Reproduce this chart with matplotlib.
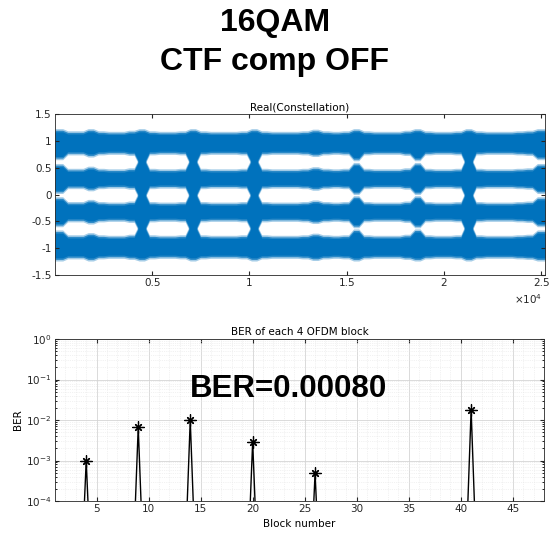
import numpy as np
import matplotlib
matplotlib.use('Agg')
import matplotlib.pyplot as plt
from matplotlib.ticker import FixedLocator, LogLocator, MultipleLocator, NullFormatter

plt.rcParams['font.family'] = ['DejaVu Sans']
plt.rcParams['mathtext.default'] = 'regular'

# constellation (real part): 48 OFDM blocks of 525 samples
block_len = 525
n_blocks = 48
levels = [0.93, 0.30, -0.32, -0.94]
# half-width of each band in each block
spread = [0.22, 0.13, 0.13, 0.17, 0.13, 0.12, 0.12, 0.14, 0.33, 0.13,
          0.12, 0.12, 0.13, 0.33, 0.13, 0.12, 0.12, 0.12, 0.13, 0.32,
          0.13, 0.12, 0.12, 0.12, 0.13, 0.16, 0.13, 0.12, 0.13, 0.24,
          0.13, 0.12, 0.12, 0.12, 0.14, 0.24, 0.13, 0.12, 0.12, 0.13,
          0.34, 0.13, 0.12, 0.12, 0.12, 0.13, 0.14, 0.22]

# BER of each block
blocks = np.arange(1, n_blocks + 1)
ber = np.zeros(n_blocks)
err_blocks = [4, 9, 14, 20, 26, 41]
err_values = [1.0e-3, 6.7e-3, 1.0e-2, 2.9e-3, 4.9e-4, 1.8e-2]
ber[np.array(err_blocks) - 1] = err_values
ber_floor = 1e-9  # error-free blocks
ber_total = 0.00080

blue = '#0072BD'
axc = '#262626'
fs = 7.5

fig = plt.figure(figsize=(5.5, 5.36), dpi=100)
fig.text(0.5, 0.958, '16QAM', ha='center', va='center', fontsize=23,
         fontweight='bold', family='Liberation Sans')
fig.text(0.5, 0.884, 'CTF comp OFF', ha='center', va='center', fontsize=23,
         fontweight='bold', family='Liberation Sans')

# ---- top: constellation
ax1 = fig.add_axes([0.1, 0.487, 0.891, 0.300])
# each block drawn as a plateau, short ramps at block edges
edge = 130
starts = np.arange(n_blocks) * block_len
xs = np.column_stack([starts + edge, starts + block_len - edge]).ravel()
xs[0], xs[-1] = 0, n_blocks * block_len
sp = np.repeat(spread, 2)
sp_out = np.minimum(sp, 0.17) + 0.07   # outer side of the outermost bands
for i, lv in enumerate(levels):
    up = sp_out if i == 0 else sp
    dn = sp_out if i == len(levels) - 1 else sp
    for pad, a in [(0.06, 0.35), (0.03, 0.75), (0.0, 1.0)]:
        ax1.fill_between(xs, lv - dn - pad, lv + up + pad,
                         color=blue, alpha=a, lw=0)
ax1.set_xlim(0, n_blocks * block_len)
ax1.set_ylim(-1.5, 1.5)
ax1.set_yticks([-1.5, -1, -0.5, 0, 0.5, 1, 1.5])
ax1.set_yticklabels(['-1.5', '-1', '-0.5', '0', '0.5', '1', '1.5'])
ax1.set_xticks([5000, 10000, 15000, 20000, 25000])
ax1.set_xticklabels(['0.5', '1', '1.5', '2', '2.5'])
ax1.text(0.995, -0.15, r'$\times10^{4}$', transform=ax1.transAxes, ha='right',
         va='center', fontsize=fs, color=axc)
ax1.set_title('Real(Constellation)', fontsize=fs, pad=3)

# ---- bottom: BER per block
ax2 = fig.add_axes([0.1, 0.0653, 0.889, 0.302])
ber_plot = np.where(ber > 0, ber, ber_floor)
ax2.semilogy(blocks, ber_plot, color='black', lw=1.0)
ax2.semilogy(blocks, ber_plot, ls='none', color='black', marker=(4, 2, 0),
             markersize=8, markeredgewidth=0.9)
ax2.semilogy(blocks, ber_plot, ls='none', color='black', marker=(4, 2, 45),
             markersize=6.5, markeredgewidth=0.9)
ax2.set_xlim(1, 48)
ax2.set_ylim(1e-4, 1)
ax2.set_xticks([5, 10, 15, 20, 25, 30, 35, 40, 45])
ax2.xaxis.set_minor_locator(MultipleLocator(1))
ax2.yaxis.set_major_locator(FixedLocator([1e-4, 1e-3, 1e-2, 1e-1, 1]))
ax2.yaxis.set_minor_locator(LogLocator(base=10, subs=np.arange(2, 10)))
ax2.yaxis.set_minor_formatter(NullFormatter())
ax2.set_yticklabels([r'$10^{-4}$', r'$10^{-3}$', r'$10^{-2}$',
                     r'$10^{-1}$', r'$10^{0}$'])
ax2.grid(True, which='major', color='#d4d4d4', lw=0.6)
ax2.grid(True, which='minor', color='#e6e6e6', lw=0.5, ls=':')
ax2.set_axisbelow(True)
ax2.set_xlabel('Block number', fontsize=fs, labelpad=3)
ax2.set_ylabel('BER', fontsize=fs, labelpad=2)
ax2.set_title('BER of each 4 OFDM block', fontsize=fs, pad=3)
ax2.text(14, 0.037, 'BER=%.5f' % ber_total, fontsize=22.5, fontweight='bold',
         family='Liberation Sans', ha='left', va='baseline')

for ax in (ax1, ax2):
    ax.tick_params(direction='in', labelsize=fs, top=True, right=True,
                   colors=axc, length=3, pad=2.5)
    ax.tick_params(which='minor', direction='in', length=1.5, right=True,
                   top=False, bottom=False)
    for s in ax.spines.values():
        s.set_color(axc)
        s.set_linewidth(0.6)
ax2.tick_params(which='minor', axis='y', left=True, right=True, length=1.5)

fig.savefig('out.png', dpi=100)
